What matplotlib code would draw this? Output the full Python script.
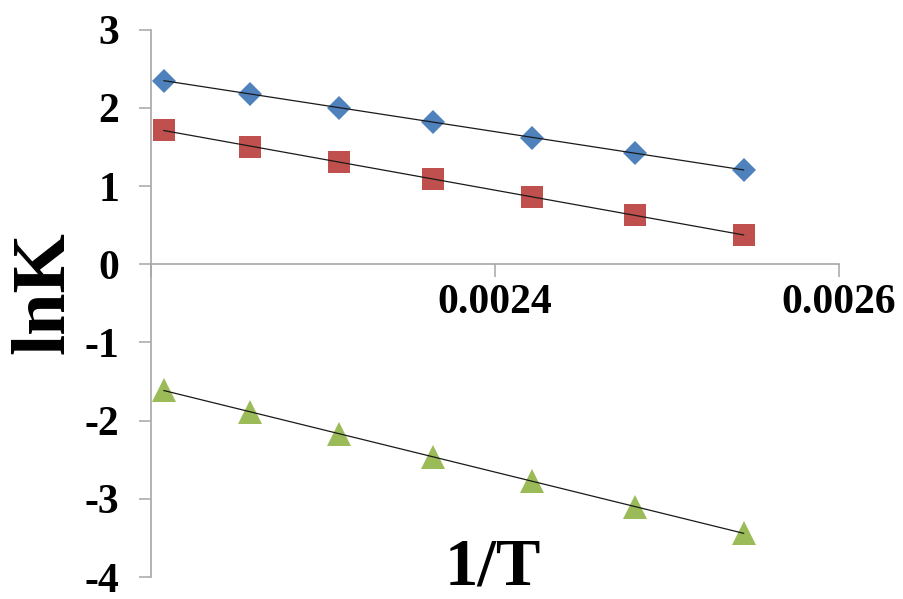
import numpy as np
import matplotlib
matplotlib.use("Agg")
import matplotlib.pyplot as plt

plt.rcParams['font.family'] = ['Liberation Serif', 'DejaVu Serif']

# Temperatures (K) and ln K for the three series
T = np.array([453, 443, 433, 423, 413, 403, 393])
inv_T = 1.0 / T
lnK_blue = [2.35, 2.18, 2.00, 1.82, 1.62, 1.42, 1.21]
lnK_red = [1.72, 1.50, 1.31, 1.09, 0.86, 0.63, 0.375]
lnK_green = [-1.61, -1.89, -2.17, -2.46, -2.77, -3.10, -3.44]

x_ticks = [0.0022, 0.0024, 0.0026]
x_tick_labels = ['', '0.0024', '0.0026']
y_ticks = [3, 2, 1, 0, -1, -2, -3, -4]

fig = plt.figure(figsize=(9.04, 5.99), dpi=100)
ax = fig.add_axes([151 / 904, 0.0366, (839 - 151) / 904, 0.9504 - 0.0366])

series = [
    (lnK_blue, 'D', '#4F81BD', 12.5),
    (lnK_red, 's', '#C0504D', 16),
    (lnK_green, '^', '#9BBB59', 17),
]
for y, marker, color, ms in series:
    ax.plot(inv_T, y, linestyle='none', marker=marker, color=color,
            markersize=ms, markeredgewidth=0, zorder=3)
    # linear trendline
    k, b = np.polyfit(inv_T, y, 1)
    xs = np.array([inv_T.min(), inv_T.max()])
    ax.plot(xs, k * xs + b, color='#1a1a1a', linewidth=0.9, zorder=4)

ax.set_xlim(0.0022, 0.0026)
ax.set_ylim(-4, 3)

spine_color = '#A6A6A6'
ax.spines['top'].set_visible(False)
ax.spines['right'].set_visible(False)
ax.spines['bottom'].set_position(('data', 0))
for s in ('left', 'bottom'):
    ax.spines[s].set_color(spine_color)
    ax.spines[s].set_linewidth(1.2)

tick_font = dict(fontsize=30, fontweight='bold')
ax.set_xticks(x_ticks)
ax.set_xticklabels(x_tick_labels, **tick_font)
ax.set_yticks(y_ticks)
ax.set_yticklabels([str(v) for v in y_ticks], **tick_font)
ax.tick_params(axis='both', direction='out', length=9, width=1.1,
               color=spine_color)
ax.tick_params(axis='x', pad=5)
ax.tick_params(axis='y', pad=14)

fig.text(45 / 904, 1 - 293 / 599, 'lnK', rotation=90, fontsize=55,
         fontweight='bold', ha='center', va='center')
fig.text(493 / 904, 1 - 568 / 599, '1/T', fontsize=48,
         fontweight='bold', ha='center', va='center')

fig.savefig('out.png', dpi=100)
